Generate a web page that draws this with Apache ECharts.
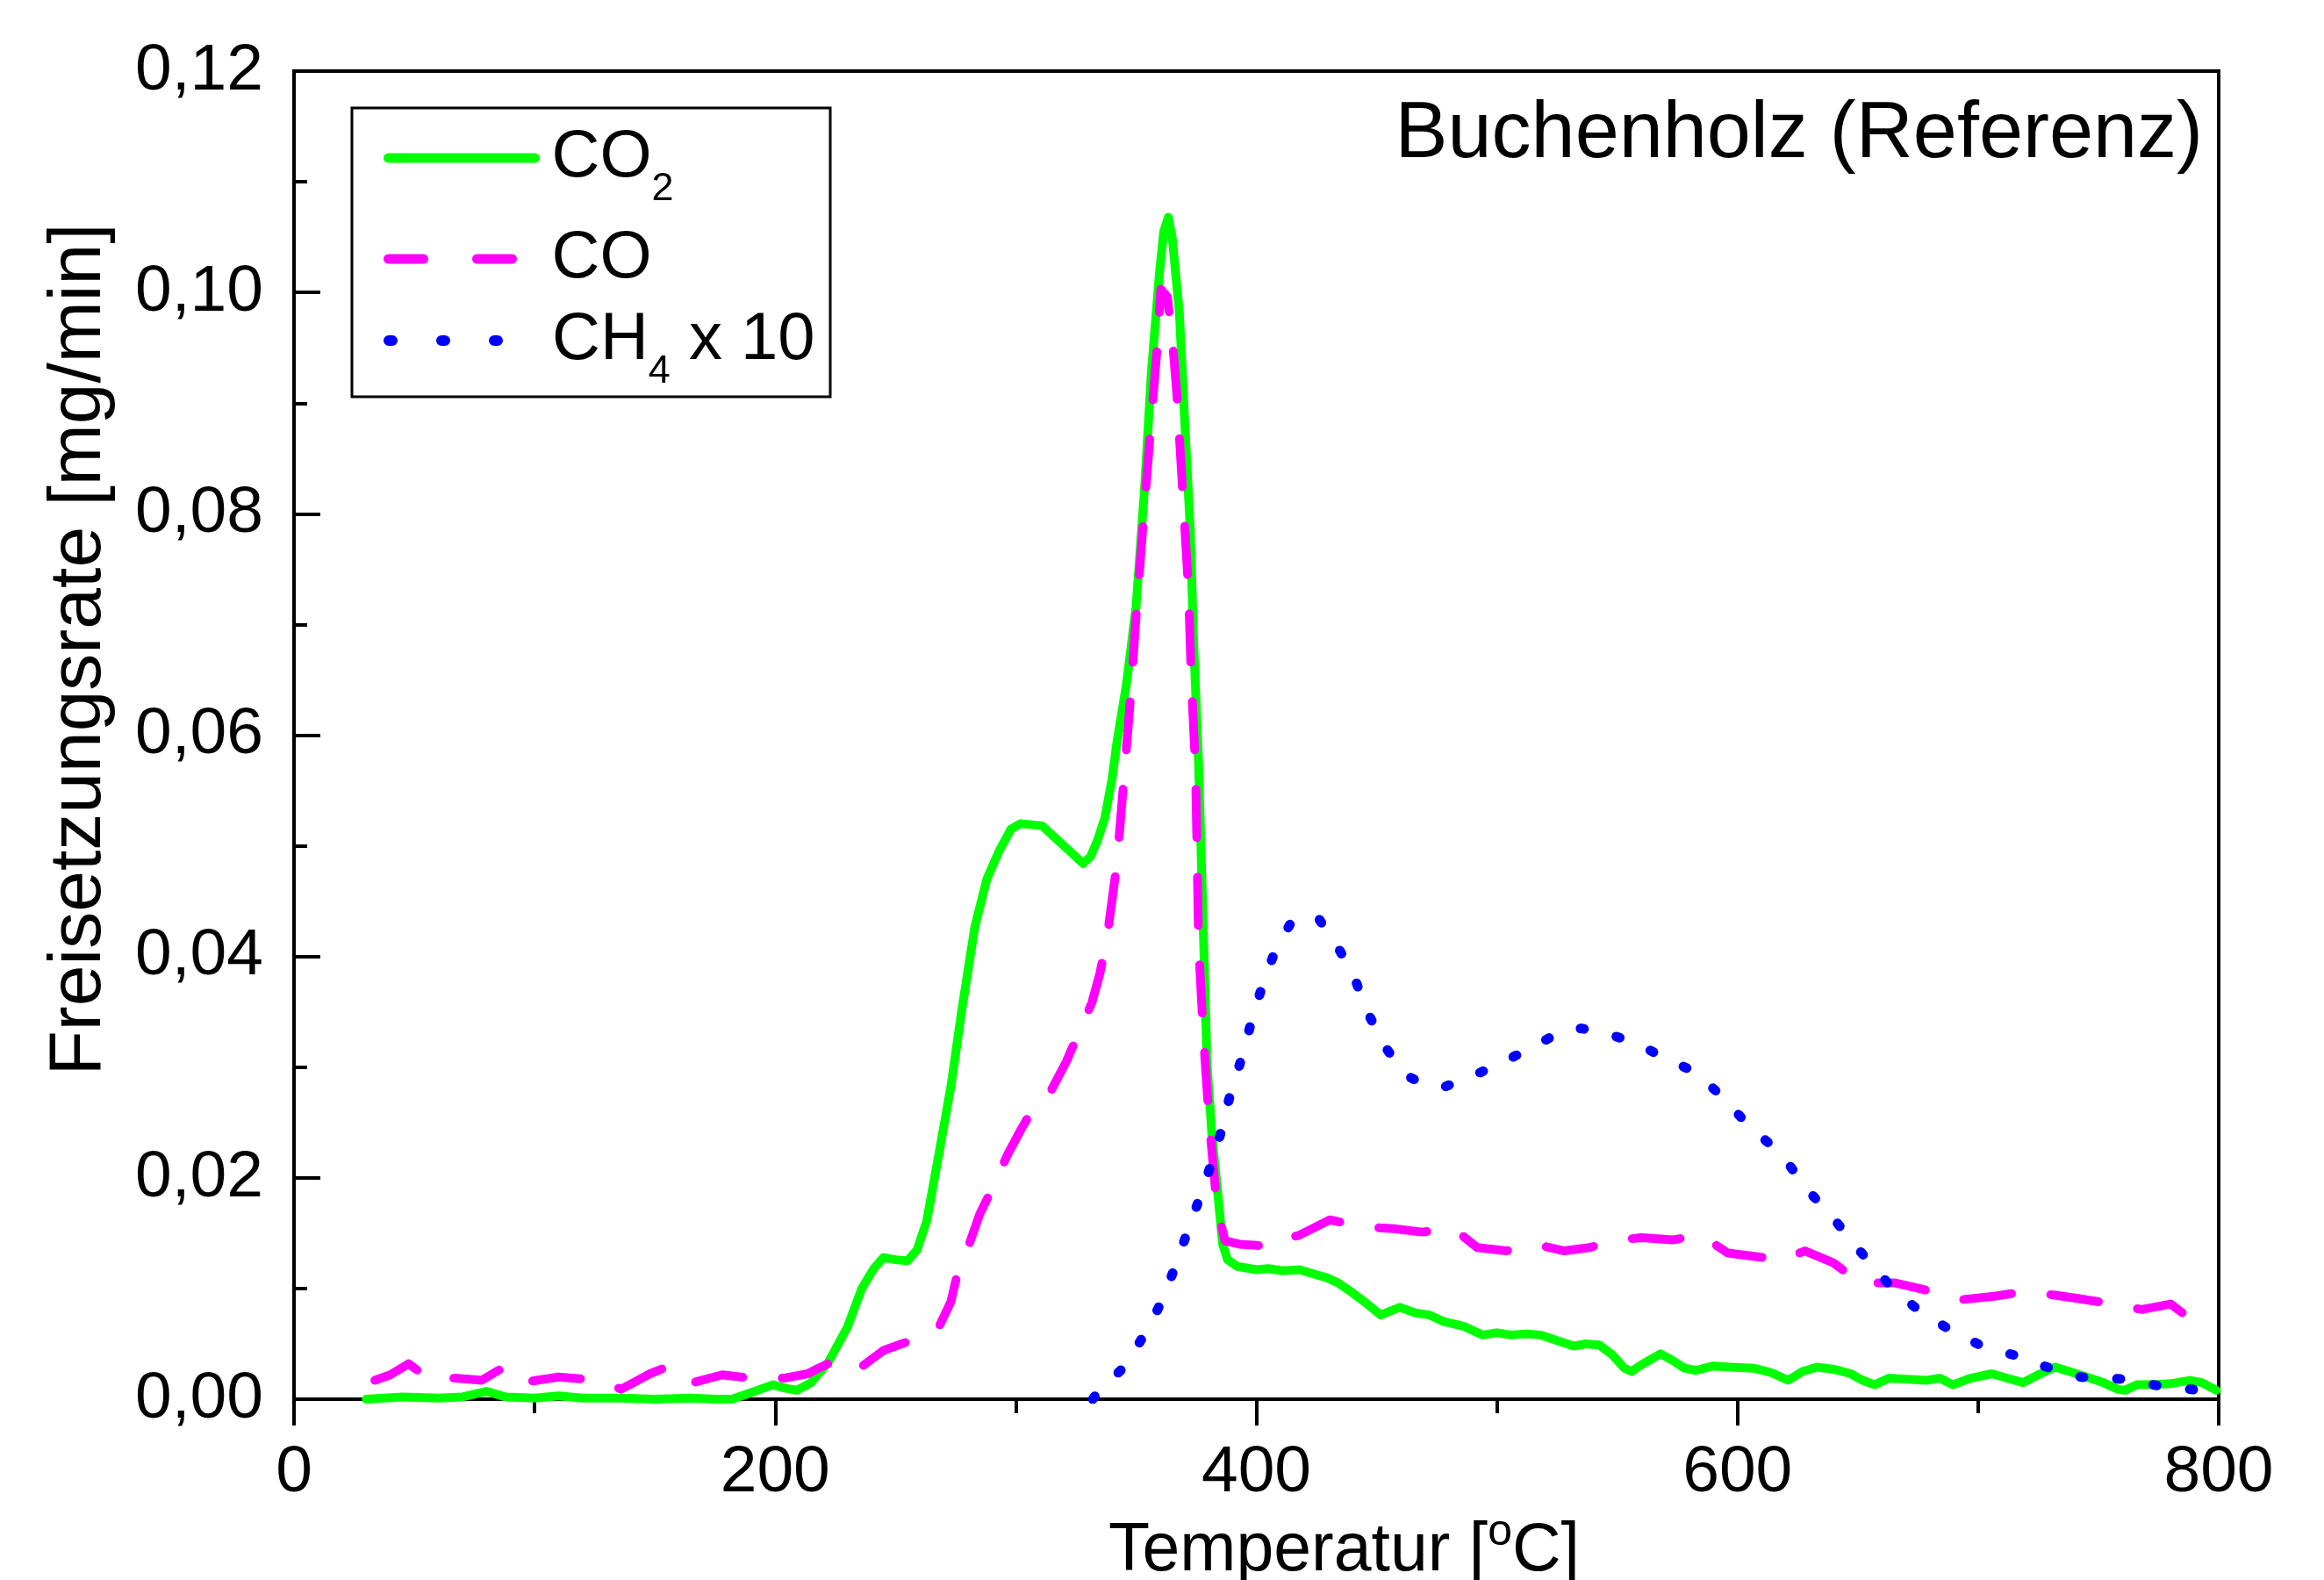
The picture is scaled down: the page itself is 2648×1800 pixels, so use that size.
<!DOCTYPE html>
<html>
<head>
<meta charset="utf-8">
<title>Buchenholz (Referenz)</title>
<script src="https://cdn.jsdelivr.net/npm/echarts@6/dist/echarts.min.js"></script>
<style>
  html, body { margin: 0; padding: 0; background: #fff; }
  #chart { width: 2648px; height: 1800px; }
</style>
</head>
<body>
<div id="chart"></div>
<script>
// release rates [mg/min] over temperature [°C]
const co2Temp = [30, 45, 60, 70, 80, 88, 100, 110, 120, 135, 150, 165, 175, 182, 190, 199, 204, 209, 215, 222,
  230, 236, 241, 245, 250, 255, 259, 263, 268, 273, 277.6, 283, 288, 293, 298, 302, 307, 311, 316, 321,
  325, 328, 331, 334, 337, 340, 342, 346, 350, 353.5, 356.4, 359.7, 361.5, 363.4, 365, 368, 370, 372.5, 374, 376,
  378, 379.5, 381.5, 383.8, 386, 388, 392, 400, 405, 411, 418, 424, 429, 434, 440, 445.5, 451.7, 455, 459.7, 466,
  472, 478, 486, 494, 500, 506, 512, 518, 525, 532, 537, 542.5, 548, 553, 556, 560, 564, 568, 573, 578,
  582.7, 590, 597, 606.7, 614, 621, 627, 633, 640, 647, 652, 657, 663, 670, 678.6, 684, 689.5, 697, 705.6, 712,
  718.7, 725, 732, 738, 745, 752, 758, 761, 766, 772, 780, 788, 793, 799];
const co2Rate = [0.0000, 0.0002, 0.0001, 0.0002, 0.0007, 0.0002, 0.0001, 0.0003, 0.0001, 0.0001, 0.0000, 0.0001, 0.0000, 0.0000, 0.0006, 0.0013, 0.0010, 0.0008, 0.0015, 0.0033,
  0.0065, 0.0100, 0.0118, 0.0128, 0.0126, 0.0125, 0.0135, 0.0161, 0.0221, 0.0282, 0.0352, 0.0427, 0.0470, 0.0495, 0.0515, 0.0520, 0.0519, 0.0518, 0.0508, 0.0498,
  0.0490, 0.0484, 0.0490, 0.0505, 0.0525, 0.0560, 0.0593, 0.0646, 0.0716, 0.0822, 0.0929, 0.1017, 0.1055, 0.1068, 0.1050, 0.0982, 0.0893, 0.0787, 0.0680, 0.0574,
  0.0420, 0.0303, 0.0240, 0.0190, 0.0140, 0.0126, 0.0120, 0.0117, 0.0118, 0.0116, 0.0117, 0.0113, 0.0110, 0.0105, 0.0096, 0.0087, 0.0076, 0.0079, 0.0083, 0.0078,
  0.0076, 0.0070, 0.0066, 0.0058, 0.0060, 0.0058, 0.0059, 0.0058, 0.0053, 0.0048, 0.0050, 0.0049, 0.0040, 0.0028, 0.0025, 0.0031, 0.0036, 0.0041, 0.0035, 0.0028,
  0.0026, 0.0030, 0.0029, 0.0028, 0.0024, 0.0017, 0.0025, 0.0029, 0.0027, 0.0023, 0.0017, 0.0013, 0.0019, 0.0018, 0.0017, 0.0019, 0.0013, 0.0019, 0.0023, 0.0019,
  0.0015, 0.0022, 0.0029, 0.0025, 0.0020, 0.0015, 0.0009, 0.0008, 0.0013, 0.0013, 0.0014, 0.0017, 0.0015, 0.0008];

const coTemp = [33.6, 40, 47.6, 52, 57, 67, 78, 88, 93, 97.6, 110, 122, 130, 136, 142, 148, 156, 162, 166, 178,
  189.6, 203.5, 213.5, 218, 224, 230, 234, 240, 245, 256.5, 264, 268, 273, 275.5, 280, 285, 290.8, 296.6, 302, 307,
  314.5, 321, 325.8, 331.6, 335, 338, 342, 344, 347.4, 350, 352.8, 355.7, 358.6, 360.3, 363, 365, 367, 369.6, 371.8, 373,
  374.7, 375.4, 376, 378, 380.5, 383.8, 387, 393, 400, 405, 408, 417.7, 430.5, 443.6, 457, 469, 482, 491.8, 503.8, 515.8,
  528, 538.5, 548, 560, 573, 585, 596, 610.7, 617.3, 628, 640, 650.8, 665.5, 677.5, 693.5, 706.7, 718.7, 732, 741.4, 756,
  768, 780, 788];
const coRate = [0.0017, 0.0022, 0.0032, 0.0025, 0.0018, 0.0019, 0.0017, 0.0030, 0.0024, 0.0016, 0.0020, 0.0018, 0.0014, 0.0009, 0.0016, 0.0023, 0.0030, 0.0021, 0.0015, 0.0022,
  0.0019, 0.0019, 0.0023, 0.0028, 0.0034, 0.0030, 0.0026, 0.0036, 0.0044, 0.0053, 0.0060, 0.0065, 0.0088, 0.0111, 0.0136, 0.0167, 0.0193, 0.0221, 0.0243, 0.0262,
  0.0278, 0.0305, 0.0329, 0.0358, 0.0385, 0.0418, 0.0483, 0.0535, 0.0626, 0.0707, 0.0787, 0.0868, 0.0946, 0.1003, 0.0996, 0.0960, 0.0907, 0.0812, 0.0731, 0.0649,
  0.0571, 0.0490, 0.0410, 0.0328, 0.0248, 0.0171, 0.0143, 0.0140, 0.0139, 0.0138, 0.0143, 0.0148, 0.0162, 0.0156, 0.0154, 0.0151, 0.0154, 0.0137, 0.0134, 0.0140,
  0.0134, 0.0137, 0.0143, 0.0146, 0.0144, 0.0148, 0.0132, 0.0128, 0.0125, 0.0134, 0.0123, 0.0105, 0.0105, 0.0099, 0.0090, 0.0093, 0.0097, 0.0094, 0.0091, 0.0086,
  0.0081, 0.0086, 0.0073];

// CH4 is plotted ten-fold
const ch4Temp = [332, 334, 343.6, 349.5, 356.8, 362.6, 368, 374, 379.5, 385, 389, 394, 398.4, 403, 407.8, 414.5, 420, 426, 434.5, 441,
  445, 453, 462, 470, 478, 485, 491.8, 499, 513, 526.5, 535, 543, 558, 568, 581, 593, 603.8, 614.7, 621, 630,
  640, 650.8, 660, 664.7, 675, 688, 701.6, 714.7, 728.6, 742.8, 761.4, 777.5, 793.5];
const ch4Rate = [0.0000, 0.0006, 0.0026, 0.0044, 0.0071, 0.0098, 0.0131, 0.0167, 0.0201, 0.0239, 0.0274, 0.0309, 0.0345, 0.0377, 0.0405, 0.0431, 0.0437, 0.0434, 0.0406, 0.0380,
  0.0355, 0.0320, 0.0293, 0.0284, 0.0282, 0.0288, 0.0294, 0.0301, 0.0316, 0.0332, 0.0335, 0.0332, 0.0322, 0.0310, 0.0297, 0.0275, 0.0249, 0.0228, 0.0213, 0.0187,
  0.0163, 0.0134, 0.0111, 0.0099, 0.0081, 0.0063, 0.0048, 0.0040, 0.0029, 0.0020, 0.0018, 0.0011, 0.0008];

const xTicks = [0, 200, 400, 600, 800];
const yTicks = [0, 0.02, 0.04, 0.06, 0.08, 0.10, 0.12];
const seriesNames = ['CO2', 'CO', 'CH4 x 10'];
const seriesColors = ['#00ff00', '#ff00ff', '#0000ff'];

const FONT = '"Liberation Sans", Arial, sans-serif';

const pairs = (xs, ys) => xs.map((x, i) => [x, ys[i]]);

const legendLabels = {
  'CO2': '{a|CO}{sub|2}',
  'CO': '{a|CO}',
  'CH4 x 10': '{a|CH}{sub|4}{a| x 10}'
};

// one legend per row so the rows can sit where they sit in the original
const legendBase = {
  orient: 'horizontal',
  padding: 0,
  left: 437,
  itemWidth: 167,
  itemHeight: 1,
  selectedMode: false,
  // line series put a circle in the middle of the icon, hide it
  itemStyle: { color: 'rgba(0,0,0,0)', borderWidth: 0 },
  formatter: name => legendLabels[name],
  textStyle: {
    color: '#000',
    fontFamily: FONT,
    fontSize: 76,
    padding: [0, 0, 0, 14],
    rich: {
      a: { fontSize: 76, lineHeight: 76, fontFamily: FONT, color: '#000' },
      sub: { fontSize: 45, lineHeight: 45, fontFamily: FONT, color: '#000', padding: [72, 0, 0, 0] }
    }
  }
};

const chart = echarts.init(document.getElementById('chart'));

const option = {
  animation: false,
  backgroundColor: '#fff',
  title: {
    text: 'Buchenholz (Referenz)',
    right: 138,
    top: 109,
    padding: 0,
    textStyle: { fontSize: 90, fontWeight: 'normal', color: '#000', fontFamily: FONT }
  },
  legend: [
    Object.assign({}, legendBase, {
      data: [seriesNames[0]], top: 121.5,
      lineStyle: { color: seriesColors[0], width: 11, type: 'solid', cap: 'round' }
    }),
    Object.assign({}, legendBase, {
      data: [seriesNames[1]], top: 257,
      lineStyle: { color: seriesColors[1], width: 11, type: [40, 61], cap: 'round' }
    }),
    Object.assign({}, legendBase, {
      data: [seriesNames[2]], top: 329.5,
      lineStyle: { color: seriesColors[2], width: 12, type: [4, 56], cap: 'round' }
    })
  ],
  graphic: [
    {
      type: 'rect',
      shape: { x: 401, y: 123, width: 545, height: 329 },
      style: { fill: 'none', stroke: '#000', lineWidth: 3 },
      z: 10
    }
  ],
  grid: {
    left: 335,
    right: 120,
    top: 81,
    bottom: 206,
    containLabel: false,
    outerBoundsMode: 'none',
    show: true,
    borderColor: '#000',
    borderWidth: 4,
    backgroundColor: 'transparent'
  },
  xAxis: {
    type: 'value',
    min: xTicks[0],
    max: xTicks[xTicks.length - 1],
    interval: xTicks[1] - xTicks[0],
    name: '{a|Temperatur [}{sup|o}{a|C]}',
    nameLocation: 'middle',
    nameGap: 125,
    nameTextStyle: {
      color: '#000',
      fontFamily: FONT,
      fontSize: 77,
      padding: [0, 0, 0, 200],
      rich: {
        a: { fontSize: 77, lineHeight: 77, fontFamily: FONT, color: '#000' },
        sup: { fontSize: 50, lineHeight: 50, fontFamily: FONT, color: '#000', padding: [0, 0, 44, 0] }
      }
    },
    axisLine: { lineStyle: { color: '#000', width: 4 } },
    axisTick: { inside: false, length: 30, lineStyle: { color: '#000', width: 4 } },
    minorTick: { show: true, splitNumber: 2, length: 16, lineStyle: { color: '#000', width: 4 } },
    axisLabel: { color: '#000', fontFamily: FONT, fontSize: 75, margin: 47 },
    splitLine: { show: false }
  },
  yAxis: {
    type: 'value',
    min: yTicks[0],
    max: yTicks[yTicks.length - 1],
    interval: yTicks[1] - yTicks[0],
    name: 'Freisetzungsrate [mg/min]',
    nameLocation: 'middle',
    nameRotate: 90,
    nameGap: 202,
    nameTextStyle: {
      color: '#000',
      fontFamily: FONT,
      fontSize: 84,
      padding: [0, 0, 0, 195]
    },
    axisLine: { lineStyle: { color: '#000', width: 4 } },
    axisTick: { inside: true, length: 30, lineStyle: { color: '#000', width: 4 } },
    minorTick: { show: true, splitNumber: 2, length: 15, lineStyle: { color: '#000', width: 4 } },
    axisLabel: {
      color: '#000',
      fontFamily: FONT,
      fontSize: 75,
      margin: 35,
      formatter: v => v.toFixed(2).replace('.', ',')
    },
    splitLine: { show: false }
  },
  series: [
    {
      name: seriesNames[0],
      type: 'line',
      data: pairs(co2Temp, co2Rate),
      symbol: 'none',
      itemStyle: { color: seriesColors[0] },
      lineStyle: { color: seriesColors[0], width: 10, cap: 'round', join: 'round' }
    },
    {
      name: seriesNames[1],
      type: 'line',
      data: pairs(coTemp, coRate),
      symbol: 'none',
      itemStyle: { color: seriesColors[1] },
      lineStyle: { color: seriesColors[1], width: 10, type: [55, 45], cap: 'round', join: 'round' }
    },
    {
      name: seriesNames[2],
      type: 'line',
      data: pairs(ch4Temp, ch4Rate),
      symbol: 'none',
      itemStyle: { color: seriesColors[2] },
      lineStyle: { color: seriesColors[2], width: 11, type: [4, 38], cap: 'round', join: 'round' }
    }
  ]
};

chart.setOption(option);
window.addEventListener('resize', () => chart.resize());
</script>
</body>
</html>
